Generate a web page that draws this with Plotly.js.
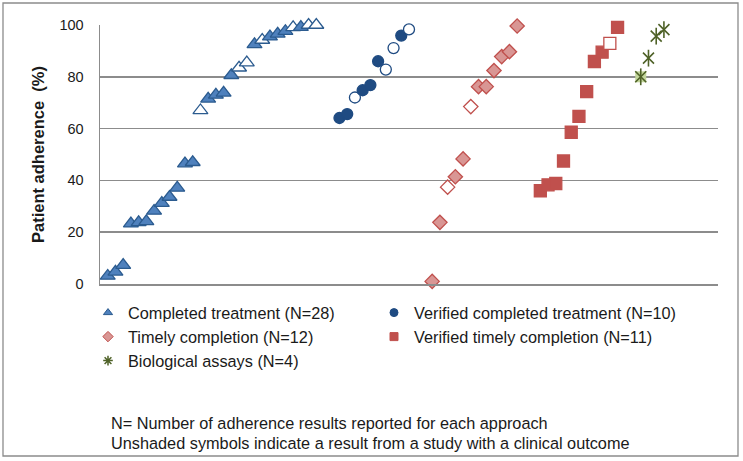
<!DOCTYPE html>
<html>
<head>
<meta charset="utf-8">
<script src="https://cdn.plot.ly/plotly-3.0.1.min.js"></script>
<style>
  html, body { margin: 0; padding: 0; background: #ffffff; }
  #chart { width: 743px; height: 461px; }
</style>
</head>
<body>
<div id="chart"></div>
<script>
// ---- Data (patient adherence %, ordered within each approach) ----
const completedTreatment = [3.1, 4.7, 7.3, 23.3, 23.8, 24.2, 28.2, 31.2, 33.6, 37.1, 46.5, 47,
  67, 71.5, 73, 73.8, 80.6, 83.5, 85.5, 92.5, 94.2, 95.5, 96.6, 97.6, 99.1, 99.2, 100, 100];
const completedTreatmentUnshaded = [0,0,0,0,0,0,0,0,0,0,0,0, 1,0,0,0,0,1,1,0,1,0,0,0,1,0,1,1];

const verifiedCompleted = [64.1, 65.6, 72, 74.8, 76.8, 86, 82.8, 91.1, 95.9, 98.3];
const verifiedCompletedUnshaded = [0,0,1,0,0,0,1,1,0,1];

const timelyCompletion = [1, 23.8, 37.4, 41.4, 48.3, 68.5, 76.2, 76.2, 82.4, 87.8, 89.7, 99.6];
const timelyCompletionUnshaded = [0,0,1,0,0,1,0,0,0,0,0,0];

const verifiedTimely = [36, 38.3, 38.8, 47.5, 58.6, 64.7, 74.3, 85.9, 89.5, 92.9, 99.1];
const verifiedTimelyUnshaded = [0,0,0,0,0,0,0,0,0,1,0];

const biologicalAssays = [80, 87.2, 95.7, 98.2];
const biologicalAssaysUnshaded = [0,1,1,1];

// first x-slot of each approach (slots are evenly spaced, groups separated by blanks)
const startSlots = [1, 31, 43, 57, 70];

const legendNames = [
  'Completed treatment (N=28)',
  'Verified completed treatment (N=10)',
  'Timely completion (N=12)',
  'Verified timely completion (N=11)',
  'Biological assays (N=4)'
];
const yTicks = [0, 20, 40, 60, 80, 100];

// ---- Styles ----
const styles = [
  {symbol: 'triangle-up', fill: '#4f81bd', line: '#2b5b8f', size: 13},
  {symbol: 'circle', fill: '#1f4b82', line: '#1f4b82', size: 11},
  {symbol: 'diamond', fill: '#d99694', line: '#c0504d', size: 11},
  {symbol: 'square', fill: '#c0504d', line: '#c0504d', size: 12},
  {symbol: 'x-thin-open', fill: '#4f6228', line: '#4f6228', size: 11}
];

const series = [
  [completedTreatment, completedTreatmentUnshaded],
  [verifiedCompleted, verifiedCompletedUnshaded],
  [timelyCompletion, timelyCompletionUnshaded],
  [verifiedTimely, verifiedTimelyUnshaded],
  [biologicalAssays, biologicalAssaysUnshaded]
];

const traces = [];
series.forEach(([vals, unshaded], k) => {
  const st = styles[k];
  const xs = vals.map((_, i) => startSlots[k] + i);
  if (k === 4) {
    // shaded biological assay points have a light green square background
    const bx = [], by = [];
    vals.forEach((v, i) => { if (!unshaded[i]) { bx.push(xs[i]); by.push(v); } });
    traces.push({
      type: 'scatter', mode: 'markers', x: bx, y: by, showlegend: false, hoverinfo: 'skip',
      cliponaxis: false,
      marker: {symbol: 'square', size: 11, color: '#c3d69b', line: {width: 0}}
    });
    // star marker = vertical stroke + thin x
    traces.push({
      type: 'scatter', mode: 'markers', x: xs, y: vals, showlegend: false, cliponaxis: false,
      marker: {symbol: 'line-ns-open', size: 12, color: st.line, line: {color: st.line, width: 1.6}}
    });
    traces.push({
      type: 'scatter', mode: 'markers', x: xs, y: vals, showlegend: false, cliponaxis: false,
      marker: {symbol: 'x-thin-open', size: 11, color: st.line, line: {color: st.line, width: 1.6}}
    });
    return;
  }
  traces.push({
    type: 'scatter', mode: 'markers', x: xs, y: vals, showlegend: false, cliponaxis: false,
    marker: {
      symbol: st.symbol, size: st.size,
      color: unshaded.map(u => u ? '#ffffff' : st.fill),
      line: {color: st.line, width: 1.3}
    }
  });
});

const L = 100, T = 25, W = 618, H = 259;
const px = v => (v - L) / W;
const py = v => (T + H - v) / H;
const txtFont = {family: 'Liberation Sans, Arial, sans-serif', size: 16.3, color: '#1a1a1a'};

// legend entries: one legend box per entry, laid out in two columns
const legendIds = ['legend', 'legend2', 'legend3', 'legend4', 'legend5'];
const legendPos = [[88, 313], [374, 313], [88, 337], [374, 337], [88, 361]];
legendNames.forEach((name, k) => {
  const st = styles[k];
  traces.push({
    type: 'scatter', mode: 'markers', x: [null], y: [null], name: name, showlegend: true,
    legend: legendIds[k],
    marker: k === 4
      ? {symbol: 'asterisk-open', size: 8, color: st.line, line: {color: st.line, width: 1.5}}
      : {symbol: st.symbol, size: 8, color: st.fill, line: {color: st.line, width: 1}}
  });
});

const layout = {
  width: 743, height: 461,
  margin: {l: L, r: 743 - L - W, t: T, b: 461 - T - H, pad: 0},
  paper_bgcolor: '#ffffff', plot_bgcolor: '#ffffff',
  font: {family: 'Liberation Sans, Arial, sans-serif', size: 14, color: '#1a1a1a'},
  showlegend: true,
  xaxis: {
    range: [0, 80], showgrid: false, zeroline: false, showticklabels: false, ticks: '',
    showline: true, linecolor: '#8c8c8c', linewidth: 1.5, fixedrange: true
  },
  yaxis: {
    range: [0, 100], tickvals: yTicks, ticktext: yTicks.map(String), showgrid: true,
    gridcolor: '#8c8c8c', gridwidth: 1.5, zeroline: false, showline: true,
    linecolor: '#8c8c8c', linewidth: 1.5, ticks: '', ticklabelstandoff: 12,
    tickfont: {size: 14.5, color: '#1a1a1a'},
    title: {text: 'Patient adherence  (%)', font: {size: 16.5, color: '#1a1a1a', weight: 'bold'}, standoff: 10},
    fixedrange: true
  },
  annotations: [
    {text: 'N= Number of adherence results reported for each approach', xref: 'paper', yref: 'paper',
     x: px(109), y: py(423), xanchor: 'left', yanchor: 'middle', showarrow: false, font: txtFont},
    {text: 'Unshaded symbols indicate a result from a study with a clinical outcome', xref: 'paper', yref: 'paper',
     x: px(109), y: py(443), xanchor: 'left', yanchor: 'middle', showarrow: false, font: txtFont}
  ],
  shapes: [
    {type: 'rect', xref: 'paper', yref: 'paper', x0: px(3), x1: px(738), y0: py(3), y1: py(456),
     line: {color: '#8c8c8c', width: 1.3}, fillcolor: 'rgba(0,0,0,0)', layer: 'below'}
  ]
};
legendIds.forEach((id, k) => {
  layout[id] = {
    orientation: 'h', x: px(legendPos[k][0]), y: py(legendPos[k][1]), xanchor: 'left', yanchor: 'middle',
    bgcolor: 'rgba(0,0,0,0)', font: txtFont, itemclick: false, itemdoubleclick: false
  };
});

Plotly.newPlot('chart', traces, layout, {displayModeBar: false, staticPlot: true});
</script>
</body>
</html>
